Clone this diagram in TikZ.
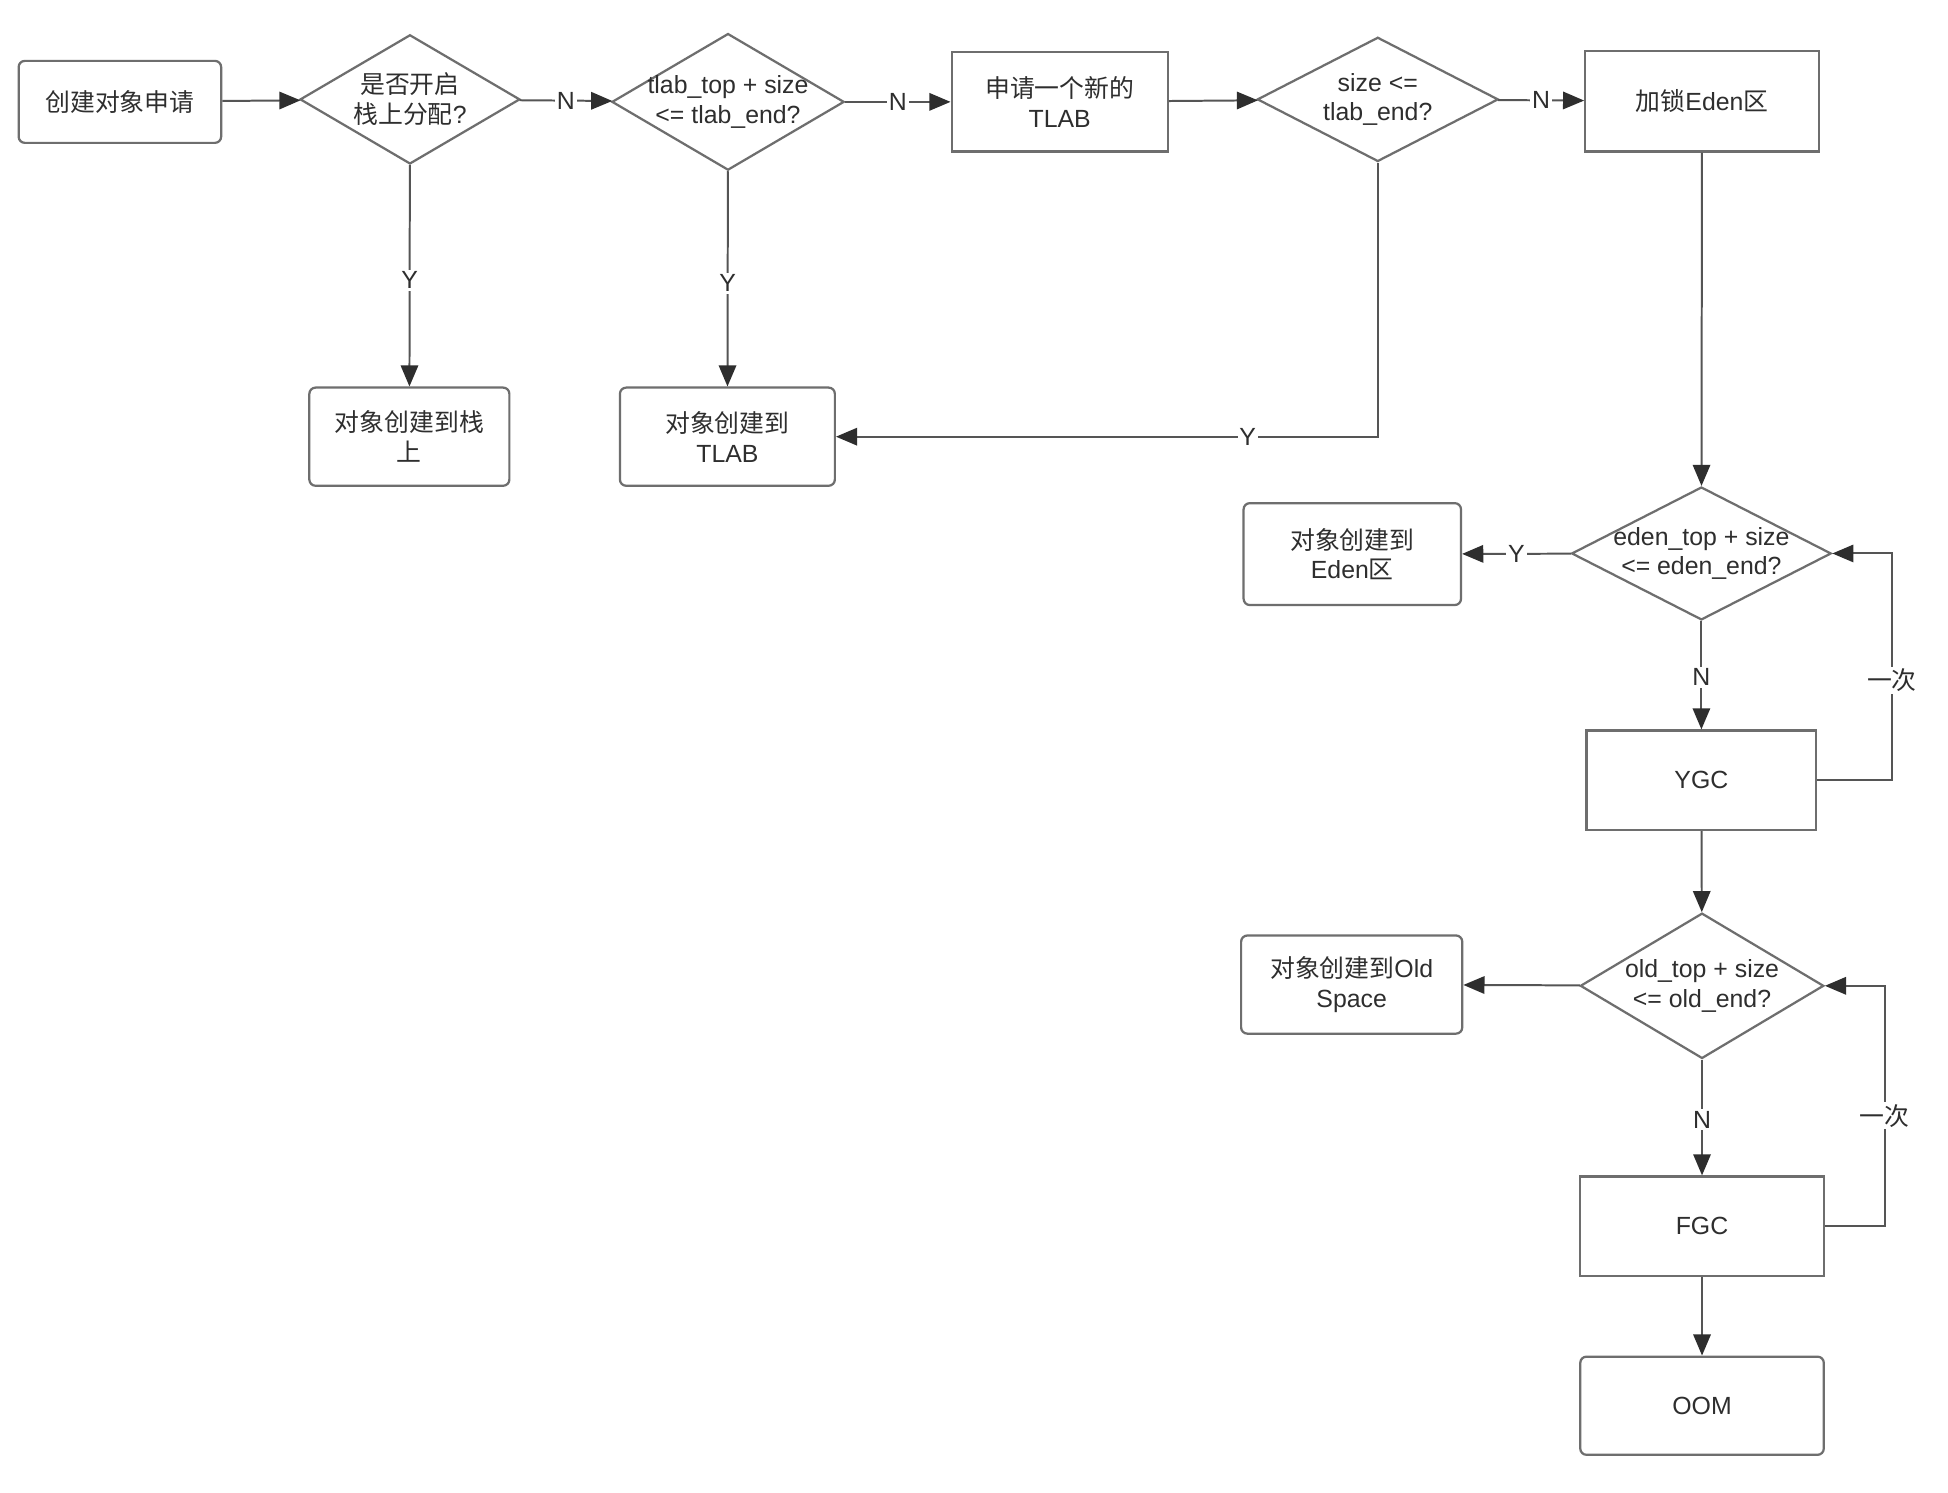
\documentclass[tikz,border=0pt]{standalone}
\usepackage{fontspec}
\setmainfont{Liberation Sans}
\newfontfamily\cjk{Noto Sans CJK SC}
\usetikzlibrary{shapes.geometric,arrows.meta}
\definecolor{bord}{HTML}{6E6E6E}
\definecolor{lnc}{HTML}{555555}
\definecolor{txt}{HTML}{2E2E2E}
\begin{document}
\begin{tikzpicture}[x=1pt,y=-1pt,
  font=\fontsize{20}{24}\selectfont, text=txt,
  rbox/.style={draw=bord, line width=1.8pt, rounded corners=5pt, align=center, inner sep=0pt},
  sbox/.style={draw=bord, line width=1.8pt, align=center, inner sep=0pt},
  dia/.style={diamond, draw=bord, line width=1.8pt, inner sep=0pt},
  conn/.style={draw=lnc, line width=1.6pt, -{Triangle[length=17pt,width=14pt,color=txt]}},
  lbl/.style={fill=white, inner sep=1.5pt, text=txt}]
\useasboundingbox (0,0) rectangle (1568,1201);
\fill[white] (0,0) rectangle (1568,1201);

% nodes
\node[rbox, minimum width=163pt, minimum height=66pt] (start) at (96.5,82) {{\cjk 创建对象申请}};
\node[dia, minimum width=177pt, minimum height=104pt,
  label={[align=center]center:{\cjk 是否开启}\\{\cjk 栈上分配}?}] (d1) at (330,80) {};
\node[dia, minimum width=187pt, minimum height=110pt,
  label={[align=center]center:tlab\_top + size\\<= tlab\_end?}] (d2) at (586,82) {};
\node[sbox, minimum width=174pt, minimum height=80pt] (newtlab) at (853,82) {{\cjk 申请一个新的}\\TLAB};
\node[dia, minimum width=194pt, minimum height=100pt,
  label={[align=center]center:size <=\\tlab\_end?}] (d3) at (1109,80) {};
\node[sbox, minimum width=188pt, minimum height=81pt] (lock) at (1370,81.5) {{\cjk 加锁}Eden{\cjk 区}};

\node[rbox, minimum width=161pt, minimum height=79pt] (stack) at (329.5,351.5) {{\cjk 对象创建到栈}\\{\cjk 上}};
\node[rbox, minimum width=173pt, minimum height=79pt] (tlab) at (585.5,351.5) {{\cjk 对象创建到}\\TLAB};

\node[dia, minimum width=209pt, minimum height=107pt,
  label={[align=center]center:eden\_top + size\\<= eden\_end?}] (d4) at (1369.5,445.5) {};
\node[rbox, minimum width=175pt, minimum height=82pt] (eden) at (1088.5,446) {{\cjk 对象创建到}\\Eden{\cjk 区}};
\node[sbox, minimum width=185pt, minimum height=80pt] (ygc) at (1369.5,628) {YGC};

\node[dia, minimum width=196pt, minimum height=117pt,
  label={[align=center]center:old\_top + size\\<= old\_end?}] (d5) at (1370,793.5) {};
\node[rbox, minimum width=178pt, minimum height=79pt] (old) at (1088,792.5) {{\cjk 对象创建到}Old\\Space};
\node[sbox, minimum width=196pt, minimum height=80pt] (fgc) at (1370,987) {FGC};
\node[rbox, minimum width=196pt, minimum height=79pt] (oom) at (1370,1131.5) {OOM};

% connectors
\draw[conn] (start) -- (d1);
\draw[conn] (d1) -- node[lbl]{N} (d2);
\draw[conn] (d2) -- node[lbl]{N} (newtlab);
\draw[conn] (newtlab) -- (d3);
\draw[conn] (d3) -- node[lbl]{N} (lock);
\draw[conn] (d1) -- node[lbl, pos=0.52]{Y} (stack);
\draw[conn] (d2) -- node[lbl, pos=0.52]{Y} (tlab);
\draw[conn] (d3.south) |- node[lbl, pos=0.62]{Y} (tlab.east);
\draw[conn] (lock) -- (d4);
\draw[conn] (d4) -- node[lbl]{Y} (eden);
\draw[conn] (d4) -- node[lbl, pos=0.52]{N} (ygc);
\draw[conn] (ygc.east) -- ++(60,0) |- node[lbl, pos=0.22]{{\cjk 一次}} (d4.east);
\draw[conn] (ygc) -- (d5);
\draw[conn] (d5) -- (old);
\draw[conn] (d5) -- node[lbl, pos=0.52]{N} (fgc);
\draw[conn] (fgc.east) -- ++(48,0) |- node[lbl, pos=0.23]{{\cjk 一次}} (d5.east);
\draw[conn] (fgc) -- (oom);
\end{tikzpicture}
\end{document}
